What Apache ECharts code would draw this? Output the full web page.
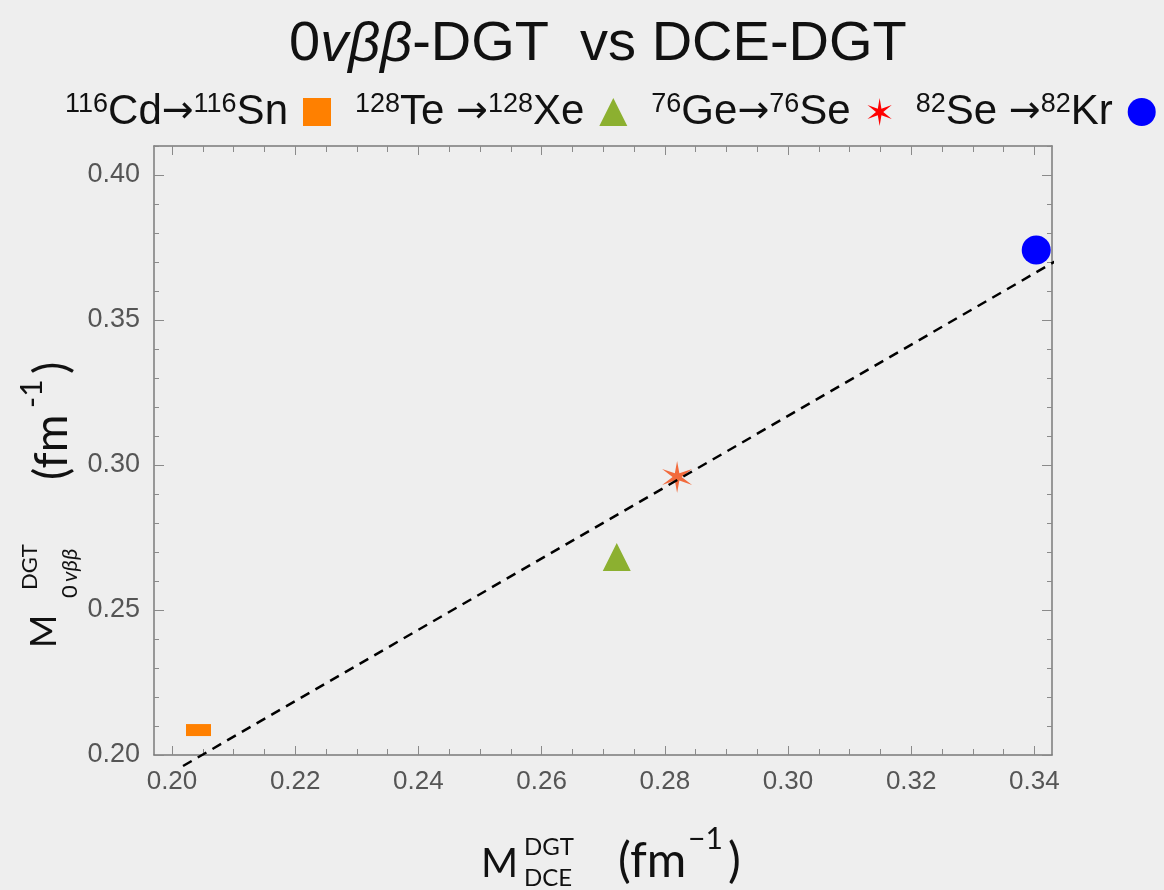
<!DOCTYPE html>
<html>
<head>
<meta charset="utf-8">
<script src="https://cdn.jsdelivr.net/npm/echarts@6/dist/echarts.min.js"></script>
<style>
  html, body { margin: 0; padding: 0; background: #eeeeee; }
  #main { width: 1164px; height: 890px; }
</style>
</head>
<body>
<div id="main"></div>
<script>
// data
var seriesNames = ['116Cd→116Sn', '128Te→128Xe', '76Ge→76Se', '82Se→82Kr'];
var legendLabels = [
  '{sup|116}Cd{arr|→}{sup|116}Sn',
  '{sup|128}Te {arr|→}{sup|128}Xe',
  '{sup|76}Ge{arr|→}{sup|76}Se',
  '{sup|82}Se {arr|→}{sup|82}Kr'
];
var cdSn = [[0.2043, 0.2086]];
var teXe = [[0.2722, 0.2683]];
var geSe = [[0.2820, 0.2959]];
var seKr = [[0.3403, 0.3741]];
var fitLine = [[0.20179, 0.19621], [0.34432, 0.37138]];

var xMajor = [0.20, 0.22, 0.24, 0.26, 0.28, 0.30, 0.32, 0.34];
var yMajor = [0.20, 0.25, 0.30, 0.35, 0.40];
var xRange = [0.19708, 0.34286];
var yRange = [0.20, 0.41];

// minor tick positions (layout only)
var xMinor = [], yMinor = [];
for (var i = 0; i <= 29; i++) {
  var v = +(0.195 + i * 0.005).toFixed(3);
  if (v > xRange[0] && v < xRange[1]) xMinor.push(v);
}
for (var j = 0; j <= 21; j++) {
  var w = +(0.20 + j * 0.01).toFixed(2);
  if (w >= yRange[0] && w <= yRange[1]) yMinor.push(w);
}

// six point star path
function starPath() {
  var pts = [];
  for (var k = 0; k < 12; k++) {
    var a = -Math.PI / 2 + k * Math.PI / 6;
    var r = (k % 2 === 0) ? 10 : 2.6;
    pts.push((10 + r * Math.cos(a)).toFixed(2) + ' ' + (10 + r * Math.sin(a)).toFixed(2));
  }
  return 'path://M' + pts.join(' L') + ' Z';
}
var star = starPath();

var frameColor = '#7a7a7a';
var tickColor = '#8a8a8a';

function xAx(pos, vals, len, showLine, showLabel) {
  return {
    type: 'value', position: pos, min: xRange[0], max: xRange[1],
    axisLine: { show: showLine, onZero: false, lineStyle: { color: frameColor, width: 1.5 } },
    axisTick: { show: true, inside: true, length: len, customValues: vals, lineStyle: { color: tickColor, width: 1 } },
    axisLabel: {
      show: showLabel, customValues: xMajor, margin: 14,
      color: '#555', fontSize: 26, fontFamily: 'Liberation Sans',
      formatter: function (v) { return v.toFixed(2); }
    },
    splitLine: { show: false }
  };
}
function yAx(pos, vals, len, showLine, showLabel) {
  return {
    type: 'value', position: pos, min: yRange[0], max: yRange[1],
    axisLine: { show: showLine, onZero: false, lineStyle: { color: frameColor, width: 1.5 } },
    axisTick: { show: true, inside: true, length: len, customValues: vals, lineStyle: { color: tickColor, width: 1 } },
    axisLabel: {
      show: showLabel, customValues: yMajor, margin: 14,
      color: '#555', fontSize: 27, fontFamily: 'Liberation Sans',
      formatter: function (v) { return v.toFixed(2); }
    },
    splitLine: { show: false }
  };
}

var titleFont = 'Lato';
function txt(x, y, text, size, opts) {
  opts = opts || {};
  return {
    type: 'text', x: x, y: y, rotation: opts.rot || 0, z: 100,
    style: {
      text: text, fontSize: size, fontFamily: titleFont,
      fontStyle: opts.italic ? 'italic' : 'normal',
      fill: '#111', align: 'left', verticalAlign: 'middle'
    }
  };
}
var R = Math.PI / 2;

var myChart = echarts.init(document.getElementById('main'));
var option = {
  backgroundColor: '#eeeeee',
  animation: false,
  title: {
    text: '0{i|vββ}-DGT  vs DCE-DGT',
    left: 284, top: 12,
    textStyle: {
      fontFamily: 'Liberation Sans', fontSize: 56, fontWeight: 'normal', color: '#111',
      rich: { i: { fontFamily: 'Liberation Sans', fontSize: 56, fontStyle: 'italic', color: '#111' } }
    }
  },
  legend: {
    left: 60, top: 86, align: 'right', itemGap: 24,
    itemWidth: 28, itemHeight: 28,
    data: [
      { name: seriesNames[0], icon: 'rect', itemStyle: { color: '#ff8000' } },
      { name: seriesNames[1], icon: 'triangle', itemStyle: { color: '#8cb030' } },
      { name: seriesNames[2], icon: star, itemStyle: { color: '#ff0000' } },
      { name: seriesNames[3], icon: 'circle', itemStyle: { color: '#0000ff' } }
    ],
    formatter: function (name) { return legendLabels[seriesNames.indexOf(name)]; },
    textStyle: {
      fontFamily: 'Liberation Sans', fontSize: 42, color: '#111', padding: [0, 10, 0, 0],
      lineHeight: 42,
      rich: {
        sup: { fontFamily: 'Liberation Sans', fontSize: 27, color: '#111', verticalAlign: 'top', lineHeight: 22 },
        arr: { fontFamily: 'DejaVu Sans', fontSize: 38, color: '#111', lineHeight: 42 }
      }
    }
  },
  grid: { left: 154, top: 146, right: 112, bottom: 135, containLabel: false },
  xAxis: [
    xAx('bottom', xMajor, 9, true, true),
    xAx('bottom', xMinor, 6, false, false),
    xAx('top', xMajor, 9, true, false),
    xAx('top', xMinor, 6, false, false)
  ],
  yAxis: [
    yAx('left', yMajor, 10, true, true),
    yAx('left', yMinor, 5, false, false),
    yAx('right', yMajor, 10, true, false),
    yAx('right', yMinor, 5, false, false)
  ],
  series: [
    { name: seriesNames[0], type: 'scatter', data: cdSn, symbol: 'rect', symbolSize: [25, 12],
      itemStyle: { color: '#ff8000', opacity: 1 } },
    { name: seriesNames[1], type: 'scatter', data: teXe, symbol: 'triangle', symbolSize: [28, 28],
      itemStyle: { color: '#8cb030', opacity: 1 } },
    { name: seriesNames[2], type: 'scatter', data: geSe, symbol: star, symbolSize: [30, 32],
      itemStyle: { color: '#f26a3c', opacity: 1 } },
    { name: seriesNames[3], type: 'scatter', data: seKr, symbol: 'circle', symbolSize: 29,
      itemStyle: { color: '#0000ff', opacity: 1 } },
    { name: 'fit', type: 'line', data: fitLine, showSymbol: false, symbol: 'none', clip: false, z: 5,
      lineStyle: { color: '#000', width: 2.5, type: [10, 7] } }
  ],
  graphic: [
    // x axis title
    txt(481, 864, 'M', 40),
    txt(524, 847, 'DGT', 24),
    txt(524, 878, 'DCE', 24),
    txt(618, 862, '(fm', 48),
    txt(688, 839, '−1', 30),
    txt(728, 862, ')', 48),
    // y axis title (rotated)
    txt(44, 648, 'M', 36, { rot: R }),
    txt(30, 590, 'DGT', 22, { rot: R }),
    txt(70, 598, '0 ', 22, { rot: R }),
    txt(70, 582, 'vββ', 22, { rot: R, italic: true }),
    txt(52, 480, '(fm', 46, { rot: R }),
    txt(32, 408, '-1', 30, { rot: R }),
    txt(52, 374, ')', 46, { rot: R })
  ]
};
myChart.setOption(option);
</script>
</body>
</html>
